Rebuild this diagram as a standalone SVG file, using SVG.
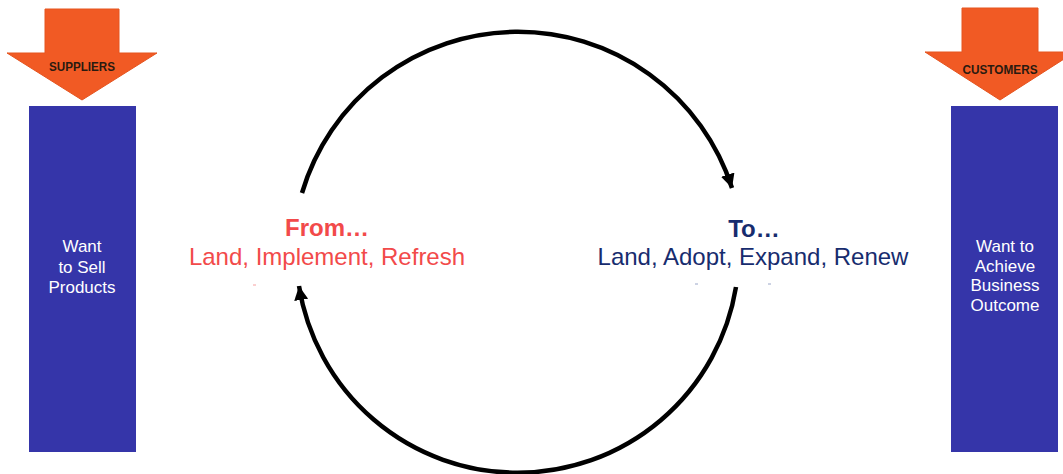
<svg xmlns="http://www.w3.org/2000/svg" width="1063" height="474" viewBox="0 0 1063 474">
<style>
.tag{font-family:"Liberation Sans",Arial,sans-serif;font-weight:bold;font-size:12px;fill:#2a1a10;text-anchor:middle}
.box{fill:#3535a9}
.boxt{font-family:"Liberation Sans",Arial,sans-serif;font-size:17px;fill:#ffffff;text-anchor:middle}
.arr{fill:#f15a24;stroke:#e5541f;stroke-width:1}
.red{font-family:"Liberation Sans",Arial,sans-serif;fill:#f24a4a;text-anchor:middle}
.navy{font-family:"Liberation Sans",Arial,sans-serif;fill:#172c6e;text-anchor:middle}
.conn{fill:none;stroke:#000;stroke-width:4.5}
</style>
<defs>
<marker id="ah" markerUnits="userSpaceOnUse" markerWidth="18" markerHeight="18" refX="14" refY="7" orient="auto">
<path d="M0,0 L14,7 L0,14 Z" fill="#000"/>
</marker>
</defs>
<rect width="1063" height="474" fill="#ffffff"/>
<g id="suppliers">
<polygon class="arr" points="45,9 119,9 119,53 157,53 82,100 7,53 45,53"/>
<text class="tag" x="82" y="71" textLength="66" lengthAdjust="spacingAndGlyphs">SUPPLIERS</text>
</g>
<g id="customers">
<polygon class="arr" points="962,8 1038,8 1038,52 1075,52 1000,100 925,52 962,52"/>
<text class="tag" x="1000" y="74" textLength="75" lengthAdjust="spacingAndGlyphs">CUSTOMERS</text>
</g>
<g id="sell-box">
<rect class="box" x="29" y="106" width="107" height="346"/>
<text class="boxt" x="82" y="252">Want</text>
<text class="boxt" x="82" y="273">to Sell</text>
<text class="boxt" x="82" y="293">Products</text>
</g>
<g id="outcome-box">
<rect class="box" x="951" y="106" width="107" height="346"/>
<text class="boxt" x="1005" y="252">Want to</text>
<text class="boxt" x="1005" y="272">Achieve</text>
<text class="boxt" x="1005" y="291">Business</text>
<text class="boxt" x="1005" y="311">Outcome</text>
</g>
<g id="from">
<text class="red" x="327" y="236" font-size="24" font-weight="bold">From…</text>
<text class="red" x="327" y="265" font-size="24">Land, Implement, Refresh</text>
<line x1="253" y1="285" x2="256" y2="285" stroke="#f7a0a0" stroke-width="1"/>
</g>
<g id="to">
<text class="navy" x="754" y="237" font-size="24" font-weight="bold">To…</text>
<text class="navy" x="753" y="265" font-size="24">Land, Adopt, Expand, Renew</text>
<line x1="695" y1="284" x2="698" y2="284" stroke="#9aa6c8" stroke-width="1"/>
<line x1="768" y1="284" x2="771" y2="284" stroke="#9aa6c8" stroke-width="1"/>
</g>
<g id="connectors">
<path class="conn" marker-end="url(#ah)" d="M302,193 A225,225 0 0 1 732,188"/>
<path class="conn" marker-end="url(#ah)" d="M736,287 A221.3,221.3 0 0 1 299,286"/>
</g>
</svg>
